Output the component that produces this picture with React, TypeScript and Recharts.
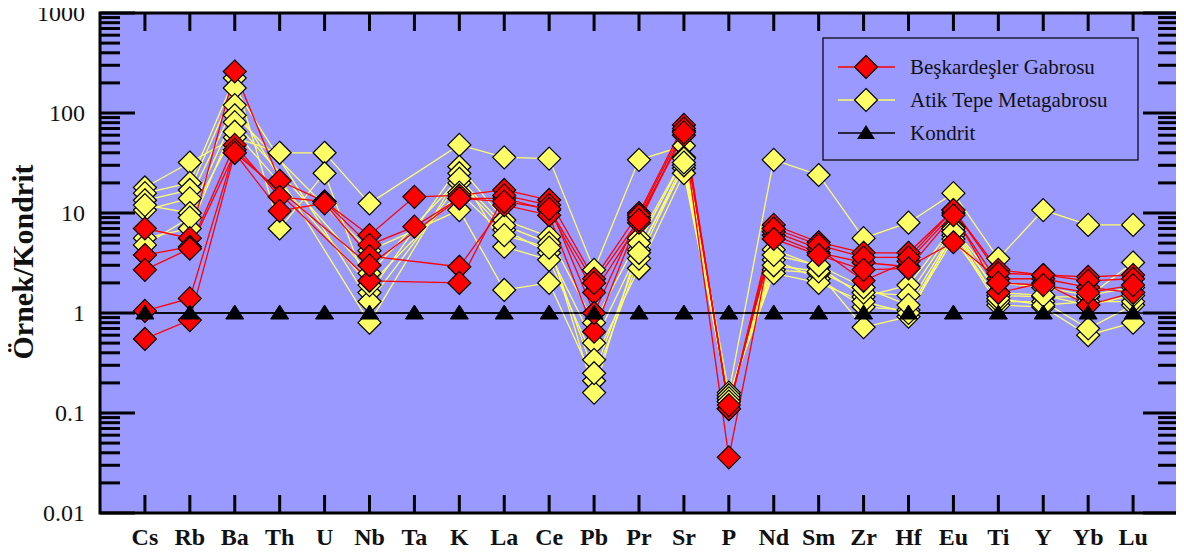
import {
  CartesianGrid,
  Line,
  LineChart,
  ReferenceArea,
  ReferenceLine,
  XAxis,
  YAxis,
} from "recharts";

// trace elements, in spider diagram order
const ELEMENTS = [
  "Cs", "Rb", "Ba", "Th", "U", "Nb", "Ta", "K", "La", "Ce", "Pb", "Pr",
  "Sr", "P", "Nd", "Sm", "Zr", "Hf", "Eu", "Ti", "Y", "Yb", "Lu",
];

// chondrite-normalised values, Beşkardeşler Gabrosu samples
const besk1 = [7.0, 5.6, 260, 21, 13, 6.0, 14.5, 15, 17, 13.5, 2.2, 10, 76, 0.11, 7.6, 5.1, 4.0, 4.0, 10.7, 2.7, 2.4, 2.3, 2.4];
const besk2 = [3.8, 4.6, 48, 14.5, 13, 4.8, 7.3, 14, 14, 10.7, 1.6, 8.0, 66, 0.11, 6.0, 4.0, 3.2, 2.9, 5.1, 2.2, 2.2, 1.8, 1.6];
const besk3 = [2.7, 4.4, 40, 10.5, 12.5, 3.7, null, 2.9, 12, 9.5, 0.65, 9.0, 60, 0.036, 6.5, 4.4, 2.1, 3.3, 10.0, 1.6, 2.0, 1.2, 1.6];
const besk4 = [1.05, 1.4, 43, null, null, 2.1, null, 2.0, 15, 12, 1.0, 9.5, 70, 0.11, 7.0, 4.8, 3.6, 3.6, 10.7, 2.5, 2.4, 2.1, 2.2];
const besk5 = [0.55, 0.85, 40, null, null, 3.0, null, 14, 13, 11, 2.0, 8.5, 64, 0.12, 5.5, 3.8, 2.7, 2.8, 9.5, 2.0, 1.9, 1.6, 1.9];

// Atik Tepe Metagabrosu samples
const atik1 = [18, 32, 57, 40, 40, 12.5, null, 48, 36, 35, 2.7, 34, 47, 0.16, 34, 24, 5.6, 8.0, 15.8, 3.5, 10.7, 7.6, 7.6];
const atik2 = [15.8, 20, 224, 7.0, 25, 1.6, null, 29, 8.5, 5.8, 0.8, 5.6, 36, 0.14, 4.3, 2.9, 1.45, 1.9, 7.3, 1.5, 1.45, 1.45, 3.2];
const atik3 = [13.4, 17, 178, null, null, 1.3, null, 20, 6.8, 4.0, 0.5, 4.3, 28, 0.13, 3.4, 2.2, 1.15, 1.07, 6.0, 1.2, 1.15, 0.6, 0.8];
const atik4 = [10.7, 14, 120, null, null, 0.8, null, 25, 4.6, 3.4, 0.34, 2.8, 25, 0.15, 2.7, 2.5, 0.72, 0.92, 6.5, 1.3, 1.3, 0.7, 1.2];
const atik5 = [12, 10, 95, null, null, 4.2, null, 10.7, 1.7, 2.0, 0.21, 3.5, 30, 0.15, 2.5, 2.0, 1.3, 1.0, 5.5, 1.4, 1.2, 1.3, 1.3];
const atik6 = [5.6, 7.0, 81, null, null, 2.5, null, 22, 7.5, 5.0, 0.16, 5.0, 35, 0.14, 3.0, 2.6, 1.6, 1.5, 7.0, 2.0, 1.8, 1.5, 1.8];
const atik7 = [4.8, 9.0, 65, null, null, 1.9, null, 16, 6.0, 4.5, 0.25, 4.0, 32, 0.13, 3.8, 3.0, 1.8, 1.2, 6.5, 1.6, 1.5, 1.2, 1.5];

// chondrite reference
const kondrit = [1, 1, 1, 1, 1, 1, 1, 1, 1, 1, 1, 1, 1, 1, 1, 1, 1, 1, 1, 1, 1, 1, 1];

const Y_MAJOR = [0.01, 0.1, 1, 10, 100, 1000];
const Y_LABELS = ["0.01", "0.1", "1", "10", "100", "1000"];

const beskSamples = [besk1, besk2, besk3, besk4, besk5];
const atikSamples = [atik1, atik2, atik3, atik4, atik5, atik6, atik7];

const rows = ELEMENTS.map((el, i) => {
  const row: Record<string, string | number | null> = { pos: i + 1, el, k: kondrit[i] };
  beskSamples.forEach((s, j) => (row[`b${j}`] = s[i]));
  atikSamples.forEach((s, j) => (row[`a${j}`] = s[i]));
  return row;
});

// log axis: 1..9 minor ticks per decade
const yTicks: number[] = [];
for (let d = 0; d < 5; d++) {
  for (let m = 1; m < 10; m++) yTicks.push(m * Y_MAJOR[d]);
}
yTicks.push(1000);

const W = 1184;
const H = 556;
const MARGIN = { top: 13, right: 6, bottom: 3, left: 0 };
const Y_W = 100;
const X_H = 40;
const PLOT_L = MARGIN.left + Y_W;
const PLOT_R = W - MARGIN.right;
const PLOT_T = MARGIN.top;
const PLOT_B = H - MARGIN.bottom - X_H;

const FONT = "'Liberation Serif', 'Times New Roman', serif";
const BG = "#9999ff";
const RED = "#ff0000";
const YELLOW = "#ffff66";

const diamondPath = (cx: number, cy: number, r: number) =>
  `M${cx} ${cy - r}L${cx + r} ${cy}L${cx} ${cy + r}L${cx - r} ${cy}Z`;

const trianglePath = (cx: number, cy: number) =>
  `M${cx} ${cy - 8}L${cx + 9} ${cy + 6}L${cx - 9} ${cy + 6}Z`;

function diamondDot(fill: string) {
  return (props: any) => {
    const { cx, cy, index, dataKey, value } = props;
    const key = `${dataKey}-${index}`;
    if (value == null || cx == null || cy == null) return <g key={key} />;
    return (
      <path key={key} d={diamondPath(cx, cy, 11.5)} fill={fill} stroke="#000" strokeWidth={1.2} />
    );
  };
}

function triangleDot(props: any) {
  const { cx, cy, index } = props;
  const key = `k-${index}`;
  if (cx == null || cy == null) return <g key={key} />;
  return <path key={key} d={trianglePath(cx, cy)} fill="#000" stroke="#000" strokeWidth={1} />;
}

function YTick(props: any) {
  const { y, payload } = props;
  const v = payload.value as number;
  const mi = Y_MAJOR.findIndex((m) => Math.abs(m - v) / m < 1e-6);
  const len = mi >= 0 ? 35 : 20;
  return (
    <g>
      <line x1={PLOT_L} x2={PLOT_L + len} y1={y} y2={y} stroke="#000" strokeWidth={3} />
      <line x1={PLOT_R - len} x2={PLOT_R} y1={y} y2={y} stroke="#000" strokeWidth={3} />
      {mi >= 0 && (
        <text x={PLOT_L - 15} y={y} dy="0.35em" textAnchor="end" fontFamily={FONT} fontSize={24} fill="#111">
          {Y_LABELS[mi]}
        </text>
      )}
    </g>
  );
}

function XTick(props: any) {
  const { x, payload } = props;
  const name = ELEMENTS[(payload.value as number) - 1];
  return (
    <g>
      <line x1={x} x2={x} y1={PLOT_B} y2={PLOT_B - 18} stroke="#000" strokeWidth={3} />
      <line x1={x} x2={x} y1={PLOT_T} y2={PLOT_T + 18} stroke="#000" strokeWidth={3} />
      <text x={x} y={PLOT_B + 32} textAnchor="middle" fontFamily={FONT} fontWeight="bold" fontSize={24} fill="#111">
        {name}
      </text>
    </g>
  );
}

const legendItems = [
  { label: "Beşkardeşler Gabrosu", color: RED, marker: "diamond", fill: RED },
  { label: "Atik Tepe Metagabrosu", color: YELLOW, marker: "diamond", fill: YELLOW },
  { label: "Kondrit", color: "#000", marker: "triangle", fill: "#000" },
];

export default function App() {
  return (
    <div style={{ position: "relative", width: W, height: H, margin: "-8px 0 0 -8px" }}>
      <LineChart width={W} height={H} data={rows} margin={MARGIN}>
        <CartesianGrid fill={BG} stroke="none" horizontal={false} vertical={false} />
        <XAxis
          dataKey="pos"
          type="number"
          domain={[0, 24]}
          ticks={ELEMENTS.map((_, i) => i + 1)}
          interval={0}
          height={X_H}
          axisLine={false}
          tickLine={false}
          tick={<XTick />}
        />
        <YAxis
          scale="log"
          type="number"
          domain={[0.01, 1000]}
          allowDataOverflow
          ticks={yTicks}
          interval={0}
          width={Y_W}
          axisLine={false}
          tickLine={false}
          tick={<YTick />}
        />
        <ReferenceLine y={kondrit[0]} stroke="#000" strokeWidth={1.5} />
        {atikSamples.map((_, j) => (
          <Line
            key={`a${j}`}
            dataKey={`a${j}`}
            stroke={YELLOW}
            strokeWidth={1.3}
            connectNulls
            dot={diamondDot(YELLOW)}
            activeDot={false}
            isAnimationActive={false}
          />
        ))}
        {beskSamples.map((_, j) => (
          <Line
            key={`b${j}`}
            dataKey={`b${j}`}
            stroke={RED}
            strokeWidth={1.3}
            connectNulls
            dot={diamondDot(RED)}
            activeDot={false}
            isAnimationActive={false}
          />
        ))}
        <Line
          dataKey="k"
          stroke="#000"
          strokeWidth={1.5}
          dot={triangleDot}
          activeDot={false}
          isAnimationActive={false}
        />
        <ReferenceArea
          x1={0}
          x2={24}
          y1={0.01}
          y2={1000}
          fill="none"
          stroke="#000"
          strokeWidth={3}
          ifOverflow="visible"
        />
      </LineChart>
      <svg
        width={W}
        height={H}
        style={{ position: "absolute", left: 0, top: 0, pointerEvents: "none" }}
      >
        <text
          transform="translate(22 262) rotate(-90)"
          textAnchor="middle"
          dy="0.35em"
          fontFamily={FONT}
          fontWeight="bold"
          fontSize={30}
          fill="#111"
        >
          Örnek/Kondrit
        </text>
        <rect x={823} y={38} width={315} height={122} fill="none" stroke="#000" strokeWidth={1.2} />
        {legendItems.map((it, i) => {
          const cy = 67 + i * 33;
          return (
            <g key={it.label}>
              <line x1={838} x2={895} y1={cy} y2={cy} stroke={it.color} strokeWidth={1.5} />
              {it.marker === "diamond" ? (
                <path d={diamondPath(866, cy, 11.5)} fill={it.fill} stroke="#000" strokeWidth={1.2} />
              ) : (
                <path d={trianglePath(866, cy)} fill="#000" />
              )}
              <text x={910} y={cy} dy="0.35em" fontFamily={FONT} fontSize={21} fill="#111">
                {it.label}
              </text>
            </g>
          );
        })}
      </svg>
    </div>
  );
}
